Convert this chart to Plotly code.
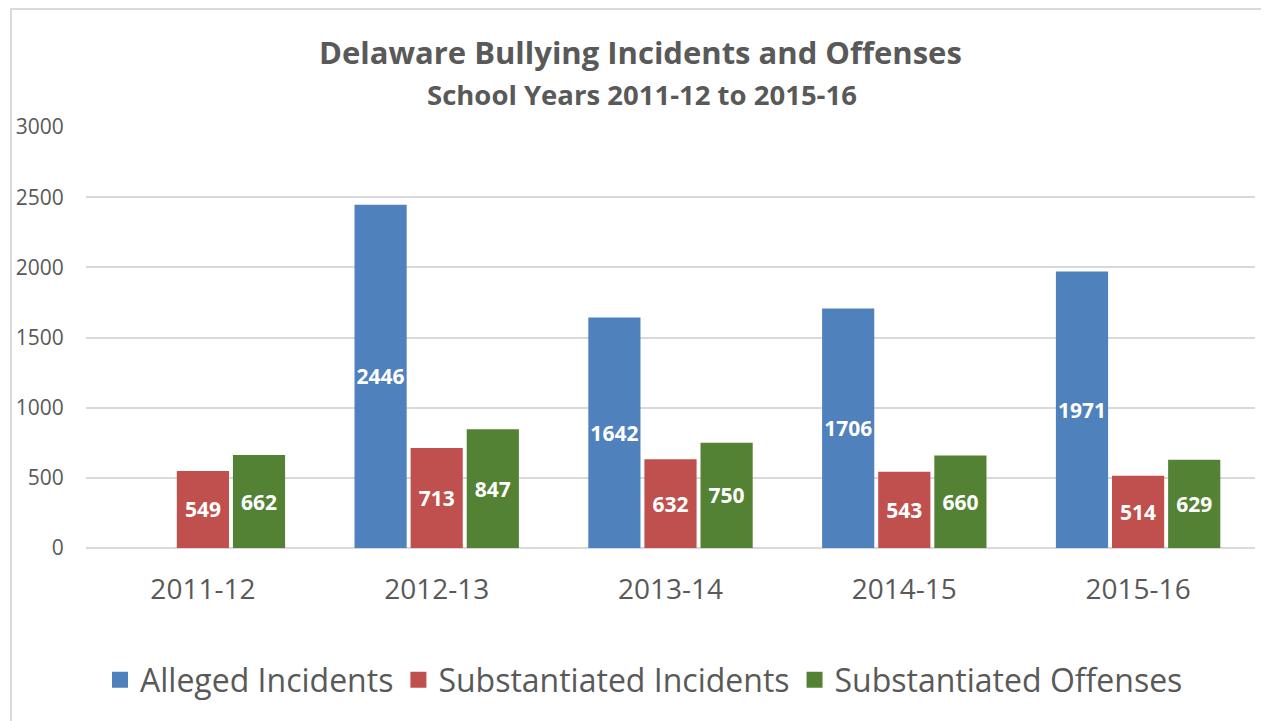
import plotly.graph_objects as go

categories = ["2011-12", "2012-13", "2013-14", "2014-15", "2015-16"]
alleged = [None, 2446, 1642, 1706, 1971]
sub_incidents = [549, 713, 632, 543, 514]
sub_offenses = [662, 847, 750, 660, 629]
series_names = ["Alleged Incidents", "Substantiated Incidents", "Substantiated Offenses"]
colors = ["#4F81BD", "#C0504D", "#548235"]
y_ticks = [0, 500, 1000, 1500, 2000, 2500, 3000]

FONT = "'Open Sans', Lato, sans-serif"
GREY = "#595959"

# page body has an 8px margin; design in reference pixel coords minus 8
OFF = 8
W, H = 1269 - OFF, 721 - OFF
PL, PR, PT, PB = 86 - OFF, 1255 - OFF, 127 - OFF, 548 - OFF
pw, ph = PR - PL, PB - PT


def px(x):
    return (x - OFF - PL) / pw


def py(y):
    return (PB - (y - OFF)) / ph


fig = go.Figure()
for name, vals, col in zip(series_names, [alleged, sub_incidents, sub_offenses], colors):
    fig.add_trace(go.Bar(
        x=categories, y=vals, name=name, marker=dict(color=col, line=dict(width=0)),
        text=[("" if v is None else str(v)) for v in vals],
        textposition="inside", insidetextanchor="middle", textangle=0,
        constraintext="none",
        textfont=dict(family=FONT, size=21, color="white", weight="bold"),
        showlegend=False, hoverinfo="x+y",
    ))
for name, col in zip(series_names, colors):
    fig.add_trace(go.Scatter(
        x=[None], y=[None], mode="markers", name=name,
        marker=dict(symbol="square", size=18, color=col), showlegend=True,
        hoverinfo="skip",
    ))

fig.update_layout(
    width=W, height=H,
    margin=dict(l=PL, r=W - PR, t=PT, b=H - PB, autoexpand=False),
    paper_bgcolor="white", plot_bgcolor="white",
    barmode="group", bargap=0.28, bargroupgap=0.07,
    font=dict(family=FONT, color=GREY),
    legend=dict(orientation="h", x=px(644), xanchor="center",
                y=py(680), yanchor="middle",
                font=dict(size=32, color=GREY, family=FONT),
                itemsizing="trace", tracegroupgap=0),
    xaxis=dict(type="category", showgrid=False, showline=False, zeroline=False,
               automargin=False,
               ticks="outside", ticklen=16, tickcolor="rgba(0,0,0,0)",
               tickfont=dict(size=28, color=GREY, family=FONT)),
    yaxis=dict(range=[0, 3000], tickvals=y_ticks, showgrid=True, automargin=False,
               gridcolor="#D9D9D9", gridwidth=1.5, zeroline=True,
               zerolinecolor="#D9D9D9", zerolinewidth=1.5, showline=False,
               ticks="outside", ticklen=17, tickcolor="rgba(0,0,0,0)",
               tickfont=dict(size=21, color=GREY, family=FONT)),
    annotations=[
        dict(text="<b>Delaware Bullying Incidents and Offenses</b>",
             xref="paper", yref="paper", x=px(640), y=py(52),
             xanchor="center", yanchor="middle", showarrow=False,
             font=dict(size=31, color=GREY, family=FONT)),
        dict(text="<b>School Years 2011-12 to 2015-16</b>",
             xref="paper", yref="paper", x=px(642), y=py(95),
             xanchor="center", yanchor="middle", showarrow=False,
             font=dict(size=27.5, color=GREY, family=FONT)),
    ],
    shapes=[dict(type="rect", xref="paper", yref="paper",
                 x0=px(11), x1=px(1267),
                 y0=py(730), y1=py(9),
                 line=dict(color="#D9D9D9", width=2), fillcolor="rgba(0,0,0,0)",
                 layer="below")],
)

fig.write_html("out.html")
